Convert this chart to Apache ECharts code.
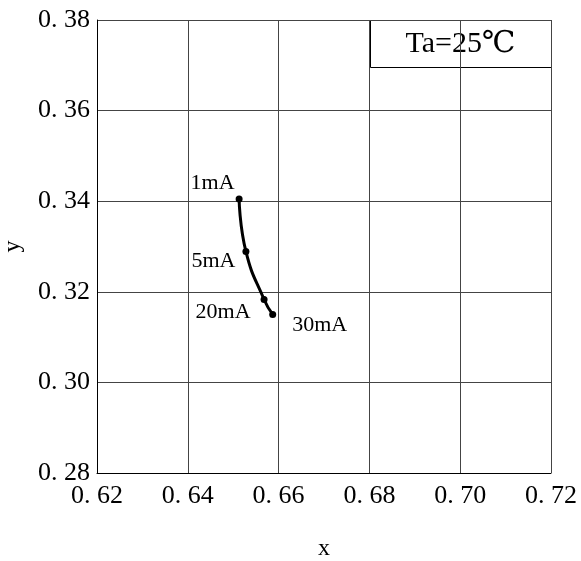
<!DOCTYPE html>
<html>
<head>
<meta charset="utf-8">
<script src="https://cdn.jsdelivr.net/npm/echarts@6/dist/echarts.min.js"></script>
<style>
  html, body { margin: 0; padding: 0; background: #fff; }
  #chart { width: 581px; height: 561px; }
</style>
</head>
<body>
<div id="chart"></div>
<script>
// chromaticity points
const xValues = [0.6513, 0.6528, 0.6568, 0.6587];
const yValues = [0.3405, 0.3289, 0.3183, 0.3150];
const currents = ['1mA', '5mA', '20mA', '30mA'];
const noteText = 'Ta=25℃';

const FONT = '"Liberation Serif", "DejaVu Serif", serif';

// where each current label sits next to its point
const labelPlace = [
    {position: 'left', offset: [4, -16]},
    {position: 'left', offset: [-2, 10]},
    {position: 'left', offset: [-5, 13]},
    {position: 'right', offset: [11, 11]}
];

let chart = echarts.init(document.getElementById('chart'));

const tickFmt = v => v.toFixed(2).replace('.', '. ');

const points = xValues.map((x, i) => ({
    value: [x, yValues[i]],
    label: {
        show: true,
        formatter: currents[i],
        position: labelPlace[i].position,
        offset: labelPlace[i].offset,
        fontFamily: FONT,
        fontSize: 22,
        color: '#000'
    }
}));

chart.setOption({
    animation: false,
    backgroundColor: '#fff',
    grid: {left: 97, right: 30, top: 20, bottom: 88, outerBoundsMode: 'none', containLabel: false},
    xAxis: {
        type: 'value',
        min: 0.62,
        max: 0.72,
        interval: 0.02,
        name: 'x',
        nameLocation: 'middle',
        nameGap: 64,
        nameTextStyle: {fontFamily: FONT, fontSize: 24, color: '#000'},
        axisLine: {show: true, lineStyle: {color: '#000', width: 1}},
        axisTick: {show: false},
        axisLabel: {
            formatter: tickFmt, margin: 10,
            fontFamily: FONT, fontSize: 26, color: '#000',
            showMinLabel: true, showMaxLabel: true
        },
        splitLine: {show: true, lineStyle: {color: '#444', width: 1}}
    },
    yAxis: {
        type: 'value',
        min: 0.28,
        max: 0.38,
        interval: 0.02,
        name: 'y',
        nameLocation: 'middle',
        nameRotate: 90,
        nameGap: 72,
        nameTextStyle: {fontFamily: FONT, fontSize: 24, color: '#000'},
        axisLine: {show: true, lineStyle: {color: '#000', width: 1}},
        axisTick: {show: false},
        axisLabel: {
            formatter: tickFmt, margin: 7,
            fontFamily: FONT, fontSize: 26, color: '#000',
            showMinLabel: true, showMaxLabel: true
        },
        splitLine: {show: true, lineStyle: {color: '#444', width: 1}}
    },
    graphic: [{
        type: 'group',
        left: 370,
        top: 20,
        children: [{
            type: 'rect',
            shape: {x: 0, y: 0, width: 181, height: 47},
            style: {fill: '#fff', stroke: '#000', lineWidth: 1}
        }, {
            type: 'text',
            x: 90,
            y: 24,
            style: {
                text: noteText,
                font: '30px ' + FONT,
                fill: '#000',
                align: 'center',
                verticalAlign: 'middle'
            }
        }]
    }],
    series: [{
        type: 'line',
        data: points,
        smooth: true,
        symbol: 'circle',
        symbolSize: 7,
        itemStyle: {color: '#000'},
        lineStyle: {color: '#000', width: 3}
    }]
});
</script>
</body>
</html>
